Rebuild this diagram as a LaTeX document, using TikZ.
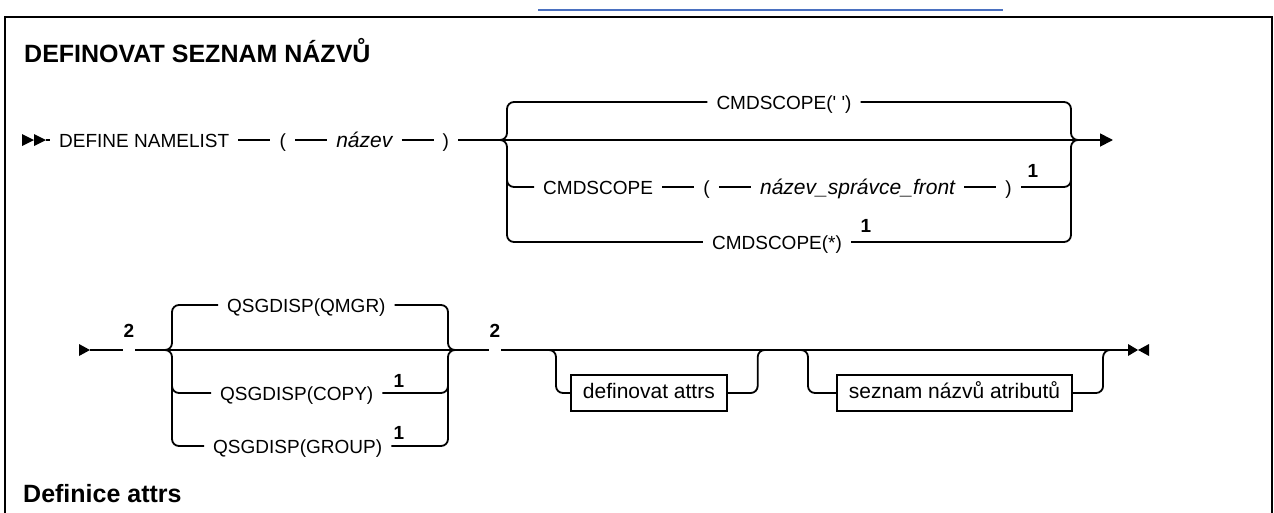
\documentclass[tikz,border=0pt]{standalone}
\usepackage{fontspec}
\setmainfont{Liberation Sans}
\usetikzlibrary{arrows.meta, positioning}

\newcommand{\railfont}{\fontsize{19}{23}\selectfont}
\newcommand{\namefont}{\fontsize{21}{25}\selectfont}
\newcommand{\headfont}{\fontsize{25}{30}\selectfont\bfseries}
\definecolor{linkblue}{RGB}{74,112,192}

\begin{document}
\begin{tikzpicture}[
    x=1pt, y=-1pt,
    node distance=32pt,
    every node/.style={font=\railfont},
    railtext/.style={
        inner xsep=9pt,
        inner ysep=0pt,
        text height=14pt,
        text depth=0pt
    },
    keybox/.style={
        draw,
        line width=1.8pt,
        font=\namefont,
        inner xsep=12pt,
        text height=15pt,
        text depth=5pt,
        minimum height=36pt
    },
    note/.style={font=\railfont\bfseries, inner sep=0pt, anchor=south},
    gap/.style={inner sep=0pt, minimum width=12pt, minimum height=1pt},
    head/.style={font=\headfont, inner sep=0pt, anchor=base west},
    rail/.style={line width=1.8pt},
    railbend/.style={rail, rounded corners=7pt},
    arrow/.style={rail, -{Triangle[length=13pt, width=13pt]}},
    marker/.style={fill=black}
]
\useasboundingbox (0,0) rectangle (1274,512);

% --- frame ---
\draw [linkblue, line width=1.2pt] (538,10) -- (1003,10);
\draw [line width=2.2pt] (5,530) -- (5,17) -- (1272,17) -- (1272,530);

% --- headings ---
\node (title) [head] at (24,62) {DEFINOVAT SEZNAM NÁZVŮ};
\node (attrhead) [head] at (23,502) {Definice attrs};

% --- row 1 nodes ---
\coordinate (start1) at (46,140);
\coordinate (brL1) at (500,140);
\coordinate (brR1) at (1078,140);
\coordinate (end1) at (1113,140);
\fill [marker] (22,134) -- (34,140) -- (22,146) -- cycle;
\fill [marker] (34,134) -- (46,140) -- (34,146) -- cycle;
\node (defn) [railtext, anchor=west] at (50,140) {DEFINE NAMELIST};
\node (lp1) [railtext, right=of defn] {(};
\node (name1) [railtext, font=\namefont\itshape, right=of lp1] {název};
\node (rp1) [railtext, right=of name1] {)};
\node (cmdq) [railtext] at (784,102) {CMDSCOPE(\textquotesingle\ \textquotesingle)};
\node (cmdn) [railtext, anchor=west] at (534,187) {CMDSCOPE};
\node (lp2) [railtext, right=of cmdn] {(};
\node (name2) [railtext, font=\namefont\itshape, right=of lp2] {název\_správce\_front\hspace{10pt}};
\node (rp2) [railtext, right=of name2] {)};
\node (cmdall) [railtext] at (777,242) {CMDSCOPE(*)};
\node (n1a) [note] at (1033,178) {1};
\node (n1b) [note] at (866,233) {1};

% --- row 1 rails ---
\draw [rail] (start1) -- (defn.west);
\draw [rail] (defn.east) -- (lp1.west);
\draw [rail] (lp1.east) -- (name1.west);
\draw [rail] (name1.east) -- (rp1.west);
\draw [rail] (rp1.east) -- (brR1);
\draw [arrow] (brR1) -- (end1);
\draw [railbend] (brL1) -| (507,102) -- (cmdq.west);
\draw [railbend] (cmdq.east) -| (1071,140) -- (brR1);
\draw [railbend] (brL1) -| (507,242) -- (cmdall.west);
\draw [railbend] (cmdall.east) -| (1071,140) -- (brR1);
\draw [railbend] (507,170) |- (cmdn.west);
\draw [rail] (cmdn.east) -- (lp2.west);
\draw [rail] (lp2.east) -- (name2.west);
\draw [rail] (name2.east) -- (rp2.west);
\draw [railbend] (rp2.east) -| (1071,170);

% --- row 2 nodes ---
\coordinate (start2) at (90,350);
\coordinate (brL2) at (165,350);
\coordinate (brR2) at (455,350);
\coordinate (end2) at (1128,350);
\fill [marker] (79,344) -- (90,350) -- (79,356) -- cycle;
\node (gap2a) [gap] at (129,350) {};
\node (n2a) [note] at (129,338) {2};
\node (qmgr) [railtext, anchor=west] at (218,305) {QSGDISP(QMGR)};
\node (qcopy) [railtext, anchor=west] at (211,393) {QSGDISP(COPY)};
\node (qgroup) [railtext, anchor=west] at (204,446) {QSGDISP(GROUP)};
\node (n1c) [note] at (399,388) {1};
\node (n1d) [note] at (399,440) {1};
\node (gap2b) [gap] at (495,350) {};
\node (n2b) [note] at (495,338) {2};
\node (defattr) [keybox, anchor=west] at (570,393) {definovat attrs};
\node (nlattr) [keybox, anchor=west] at (836,393) {seznam názvů atributů};
\fill [marker] (1128,344) -- (1138,350) -- (1128,356) -- cycle;
\fill [marker] (1149,344) -- (1138,350) -- (1149,356) -- cycle;

% --- row 2 rails ---
\draw [rail] (start2) -- (gap2a.west);
\draw [rail] (gap2a.east) -- (brR2);
\draw [railbend] (brL2) -| (172,305) -- (qmgr.west);
\draw [railbend] (qmgr.east) -| (448,350) -- (brR2);
\draw [railbend] (brL2) -| (172,446) -- (qgroup.west);
\draw [railbend] (qgroup.east) -| (448,350) -- (brR2);
\draw [railbend] (172,376) |- (qcopy.west);
\draw [railbend] (qcopy.east) -| (448,376);
\draw [rail] (brR2) -- (gap2b.west);
\draw [rail] (gap2b.east) -- (end2);
\draw [railbend] (gap2b.east) -| ([xshift=-14pt]defattr.west) -- (defattr.west);
\draw [railbend] (defattr.east) -| ([xshift=30pt]defattr.east |- gap2b) -- ++(10pt,0);
\draw [railbend] ([xshift=-40pt]nlattr.west |- gap2b) -| ([xshift=-28pt]nlattr.west) -- (nlattr.west);
\draw [railbend] (nlattr.east) -| ([xshift=30pt]nlattr.east |- end2) -- (end2);

\end{tikzpicture}
\end{document}
